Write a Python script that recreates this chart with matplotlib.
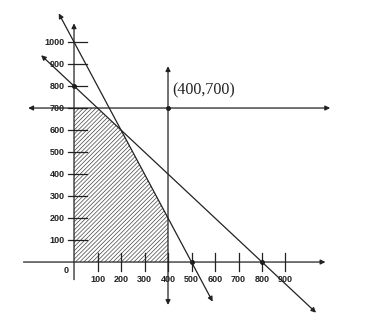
import matplotlib.pyplot as plt
import numpy as np

# constraint lines
line1_pts = [(-140, 940), (1030, -230)]   # x + y = 800
line2_pts = [(-65, 1130), (590, -180)]    # 2x + y = 1000
hline_y = 700
hline_x = [-195, 1090]
vline_x = 400
vline_y = [-195, 890]

region_x = [0, 400, 400, 200, 100, 0]
region_y = [0, 0, 200, 600, 700, 700]

dots_x = [0, 400, 500, 800]
dots_y = [800, 700, 0, 0]

xticks = [100, 200, 300, 400, 500, 600, 700, 800, 900]
yticks = [100, 200, 300, 400, 500, 600, 700, 800, 900, 1000]

fig = plt.figure(figsize=(3.91, 3.21), dpi=100)
ax = fig.add_axes([0, 0, 1, 1])
ax.set_xlim(-315, 1349)
ax.set_ylim(-268, 1191)
ax.axis('off')

plt.rcParams['hatch.linewidth'] = 0.5
plt.rcParams['hatch.color'] = '#444444'
ax.fill(region_x, region_y, facecolor='white', edgecolor='#444444', hatch='////////', lw=0)


def arrow(p0, p1, style='<|-|>'):
    ax.annotate('', xy=p1, xytext=p0,
                arrowprops=dict(arrowstyle=style, lw=0.9, color='#222222',
                                mutation_scale=7, shrinkA=0, shrinkB=0))


# axes
arrow((0, -80), (0, 1085), '-|>')
arrow((-215, 0), (1070, 0), '-|>')

# constraints
arrow(line1_pts[0], line1_pts[1])
arrow(line2_pts[0], line2_pts[1])
arrow((hline_x[0], hline_y), (hline_x[1], hline_y))
arrow((vline_x, vline_y[0]), (vline_x, vline_y[1]))

lab = dict(fontsize=6.5, fontweight='bold', color='#222222', family='Liberation Sans')

# tick marks
for t in yticks:
    ax.plot([-27, 57], [t, t], color='#222222', lw=0.9)
    ax.text(-40, t, str(t), ha='right', va='center', **lab)
for t in xticks:
    ax.plot([t, t], [40, -40], color='#222222', lw=0.9)
    ax.text(t, -60, str(t), ha='center', va='top', **lab)
ax.text(-25, -20, '0', ha='right', va='top', **lab)

ax.plot(dots_x, dots_y, 'o', color='#111111', markersize=2.5)

ax.text(420, 780, '(400,700)', fontsize=11.5, family='Liberation Serif',
        ha='left', va='center', color='#222222')

plt.savefig('out.png', dpi=100)
